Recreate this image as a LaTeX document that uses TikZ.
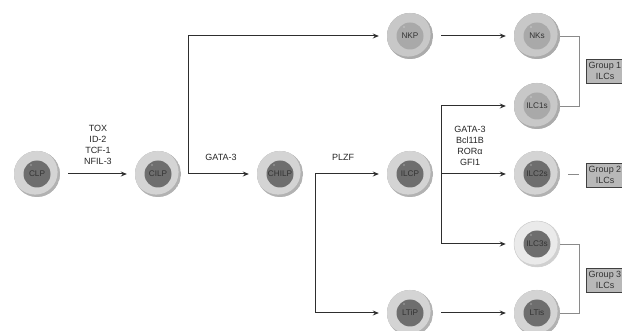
\documentclass[tikz,border=0pt]{standalone}
\usepackage{fontspec}
\setmainfont{Liberation Sans}
\usetikzlibrary{arrows.meta,calc}
\definecolor{ringA}{HTML}{D4D4D4}
\definecolor{ringAd}{HTML}{B2B2B2}
\definecolor{coreA}{HTML}{6E6E6E}
\definecolor{ringB}{HTML}{C8C8C8}
\definecolor{ringBd}{HTML}{ABABAB}
\definecolor{coreB}{HTML}{A9A9A9}
\definecolor{ringC}{HTML}{EAEAEA}
\definecolor{ringCd}{HTML}{D0D0D0}
\definecolor{txt}{HTML}{333333}
\definecolor{arrowc}{HTML}{2E2E2E}
\definecolor{brkc}{HTML}{8A8A8A}
\definecolor{boxfill}{HTML}{B8B8B8}
\tikzset{
  cellbase/.style n args={3}{circle, minimum size=46pt, inner sep=0pt, fill=#1,
    text=txt, font=\fontsize{8.2}{9}\selectfont,
    path picture={
      \fill[#2] (path picture bounding box.center) circle (23pt);
      \fill[#1] ($(path picture bounding box.center)+(-1.8pt,1.8pt)$) circle (22.4pt);
      \fill[#3] (path picture bounding box.center) circle (13.5pt);
      \fill[white!80!#3] ($(path picture bounding box.center)+(-6pt,9pt)$) circle (0.7pt);
    }},
  cellA/.style={cellbase={ringA}{ringAd}{coreA}},
  cellB/.style={cellbase={ringB}{ringBd}{coreB}},
  cellC/.style={cellbase={ringC}{ringCd}{coreA}},
  arr/.style={draw=arrowc, line width=1pt, -{Stealth[length=6pt,width=5pt]}, shorten >=8pt},
  arrn/.style={arr, shorten <=8pt},
  brk/.style={draw=brkc, line width=0.8pt},
  grp/.style={draw=black!75, fill=boxfill, line width=0.6pt, minimum width=38pt,
    minimum height=24pt, inner sep=0pt, align=center, text=txt,
    font=\fontsize{9}{10.5}\selectfont},
  lbl/.style={align=center, inner sep=0pt, text=black!85, font=\fontsize{9}{11}\selectfont},
}
\begin{document}
\begin{tikzpicture}[x=1pt,y=-1pt]
\useasboundingbox (0,0) rectangle (622,331);
\clip (0,0) rectangle (622,331);
\fill[white] (0,0) rectangle (622,331);
% cells
\node[cellA] (clp) at (37,174) {CLP};
\node[cellA] (cilp) at (158,174) {CILP};
\node[cellA] (chilp) at (280,174) {CHILP};
\node[cellA] (ilcp) at (410,174) {ILCP};
\node[cellB] (nkp) at (410,36) {NKP};
\node[cellA] (ltip) at (410,313) {LTiP};
\node[cellB] (nks) at (537,36) {NKs};
\node[cellB] (ilc1s) at (537,106) {ILC1s};
\node[cellA] (ilc2s) at (537,174) {ILC2s};
\node[cellC, draw=ringCd, line width=0.5pt] (ilc3s) at (537,244) {ILC3s};
\node[cellA] (ltis) at (537,313) {LTis};
% branch points
\coordinate (b1) at (188,174);
\coordinate (b2) at (315,174);
\coordinate (b3) at (441,174);
% arrows
\draw[arrn] (clp) -- (cilp);
\draw[arr] (b1) -- (chilp);
\draw[arr] (b1) |- (nkp);
\draw[arr] (b2) -- (ilcp);
\draw[arr] (b2) |- (ltip);
\draw[arrn] (nkp) -- (nks);
\draw[arrn] (ltip) -- (ltis);
\draw[arr] (b3) |- (ilc1s);
\draw[arr] (b3) -- (ilc2s);
\draw[arr] (b3) |- (ilc3s);
% labels
\node[lbl] (tf1) at (98,145) {TOX\\ID-2\\TCF-1\\NFIL-3};
\node[lbl] (tf2) at (221,157) {GATA-3};
\node[lbl] (tf3) at (343,157) {PLZF};
\node[lbl] (tf4) at (470,146) {GATA-3\\Bcl11B\\RORα\\GFI1};
% groups
\draw[brk] (nks.east) -- ++(19,0) |- (ilc1s.east);
\coordinate (g2a) at (568,174);
\coordinate (g2b) at (579,174);
\draw[brk] (g2a) -- (g2b);
\draw[brk] (ilc3s.east) -- ++(19,0) |- (ltis.east);
\node[grp] (grp1) at (605,71) {Group 1\\ILCs};
\node[grp] (grp2) at (605,175) {Group 2\\ILCs};
\node[grp] (grp3) at (605,280) {Group 3\\ILCs};
\end{tikzpicture}
\end{document}
